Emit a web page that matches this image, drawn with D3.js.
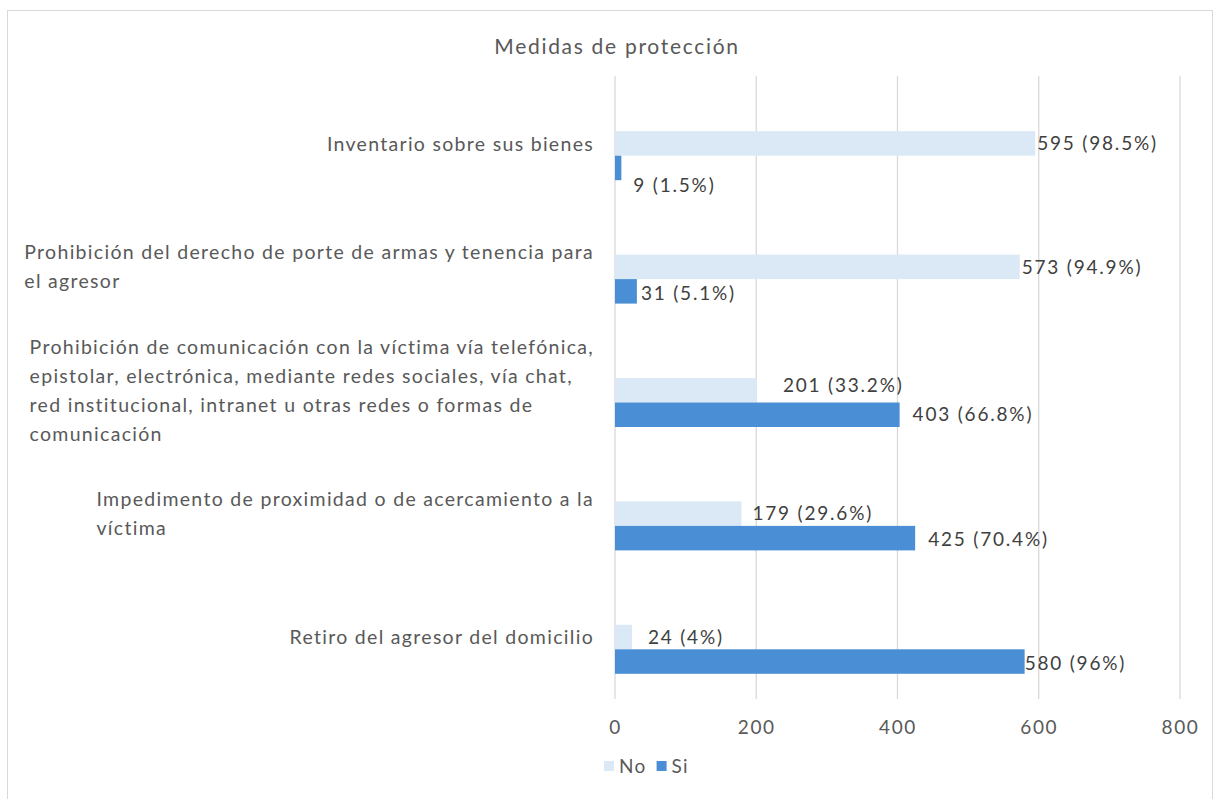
<!DOCTYPE html>
<html>
<head>
<meta charset="utf-8">
<script src="https://cdn.jsdelivr.net/npm/d3@7/dist/d3.min.js"></script>
<style>
  body { margin: 0; background: #fff; }
  text { font-family: Lato, "Open Sans", sans-serif; }
</style>
</head>
<body>
<div id="viz"></div>
<script>
var categories = [
  ["Inventario sobre sus bienes"],
  ["Prohibición del derecho de porte de armas y tenencia para", "el agresor"],
  ["Prohibición de comunicación con la víctima vía telefónica,",
   "epistolar, electrónica, mediante redes sociales, vía chat,",
   "red institucional, intranet u otras redes o formas de",
   "comunicación"],
  ["Impedimento de proximidad o de acercamiento a la", "víctima"],
  ["Retiro del agresor del domicilio"]
];
var noValues = [595, 573, 201, 179, 24];
var noPct = ["98.5%", "94.9%", "33.2%", "29.6%", "4%"];
var siValues = [9, 31, 403, 425, 580];
var siPct = ["1.5%", "5.1%", "66.8%", "70.4%", "96%"];
var xTicks = [0, 200, 400, 600, 800];
var seriesNames = ["No", "Si"];

var colors = {No: "#dbe8f5", Si: "#4a8fd5"};

var width = 1223, height = 799;
var svg = d3.select("#viz").append("svg")
    .attr("width", width)
    .attr("height", height);

// chart frame
svg.append("rect")
    .attr("x", 7.5).attr("y", 10.5)
    .attr("width", 1205).attr("height", 800)
    .attr("fill", "#fff")
    .attr("stroke", "#d9d9d9");

svg.append("text")
    .attr("x", 617).attr("y", 47)
    .attr("dy", "0.35em")
    .attr("text-anchor", "middle")
    .attr("font-size", 21)
    .attr("letter-spacing", 1.7)
    .attr("fill", "#595959")
    .text("Medidas de protección");

var x = d3.scaleLinear().domain([0, 800]).range([615, 1180]);
var y = d3.scaleBand()
    .domain(d3.range(categories.length))
    .range([94, 711]);
var barH = 24.5;

// gridlines
svg.append("g")
    .selectAll("line")
    .data(xTicks)
    .join("line")
    .attr("x1", d => x(d)).attr("x2", d => x(d))
    .attr("y1", 76).attr("y2", 699)
    .attr("stroke", "#d9d9d9")
    .attr("stroke-width", 1.3);

// x axis labels
var xAxis = d3.axisBottom(x).tickValues(xTicks).tickSize(0).tickPadding(0);
var gx = svg.append("g")
    .attr("transform", "translate(0,720)")
    .call(xAxis);
gx.select(".domain").remove();
gx.selectAll("text")
    .attr("font-family", "Lato, sans-serif")
    .attr("font-size", 19)
    .attr("letter-spacing", 1.6)
    .attr("fill", "#595959");

// bars
var rows = categories.map(function(c, i){
  return {i: i, no: noValues[i], si: siValues[i], noPct: noPct[i], siPct: siPct[i]};
});

function mid(i){ return y(i) + y.bandwidth() / 2; }

svg.append("g").selectAll("rect")
    .data(rows).join("rect")
    .attr("x", x(0))
    .attr("y", d => mid(d.i) - barH)
    .attr("width", d => x(d.no) - x(0))
    .attr("height", barH)
    .attr("fill", colors.No);

svg.append("g").selectAll("rect")
    .data(rows).join("rect")
    .attr("x", x(0))
    .attr("y", d => mid(d.i))
    .attr("width", d => x(d.si) - x(0))
    .attr("height", barH)
    .attr("fill", colors.Si);

// label nudges (excel auto-placement)
var nudgeNo = [[2, 0], [2, 0], [26, -5], [11, 0], [16, 0]];
var nudgeSi = [[12, 17], [4, 2], [13, 0], [13, 1], [0, 2]];

svg.append("g").selectAll("text")
    .data(rows).join("text")
    .attr("x", d => x(d.no) + nudgeNo[d.i][0])
    .attr("y", d => mid(d.i) - barH / 2 + nudgeNo[d.i][1])
    .attr("dy", "0.35em")
    .attr("font-size", 19)
    .attr("letter-spacing", 1.8)
    .attr("fill", "#404040")
    .text(d => d.no + " (" + d.noPct + ")");

svg.append("g").selectAll("text")
    .data(rows).join("text")
    .attr("x", d => x(d.si) + nudgeSi[d.i][0])
    .attr("y", d => mid(d.i) + barH / 2 + nudgeSi[d.i][1])
    .attr("dy", "0.35em")
    .attr("font-size", 19)
    .attr("letter-spacing", 1.8)
    .attr("fill", "#404040")
    .text(d => d.si + " (" + d.siPct + ")");

// category labels, block right aligned, lines left aligned
var lineH = 29;
categories.forEach(function(lines, i){
  var g = svg.append("g");
  var cy = mid(i) - 12;
  var top = cy - (lines.length - 1) * lineH / 2;
  var texts = g.selectAll("text")
      .data(lines).join("text")
      .attr("y", (d, k) => top + k * lineH)
      .attr("dy", "0.35em")
      .attr("font-size", 19.5)
      .attr("letter-spacing", 1.3)
      .attr("fill", "#595959")
      .text(d => d);
  var w = d3.max(texts.nodes(), n => n.getBBox().width);
  texts.attr("x", 594 - w);
});

// legend
var legend = svg.append("g").attr("transform", "translate(604,766)");
var lx = 0;
seriesNames.forEach(function(s){
  legend.append("rect")
      .attr("x", lx).attr("y", -5)
      .attr("width", 10).attr("height", 10)
      .attr("fill", colors[s]);
  var t = legend.append("text")
      .attr("x", lx + 15).attr("y", 0)
      .attr("dy", "0.35em")
      .attr("font-size", 19)
      .attr("letter-spacing", 1.3)
      .attr("fill", "#595959")
      .text(s);
  lx += 15 + t.node().getBBox().width + 10;
});
</script>
</body>
</html>
